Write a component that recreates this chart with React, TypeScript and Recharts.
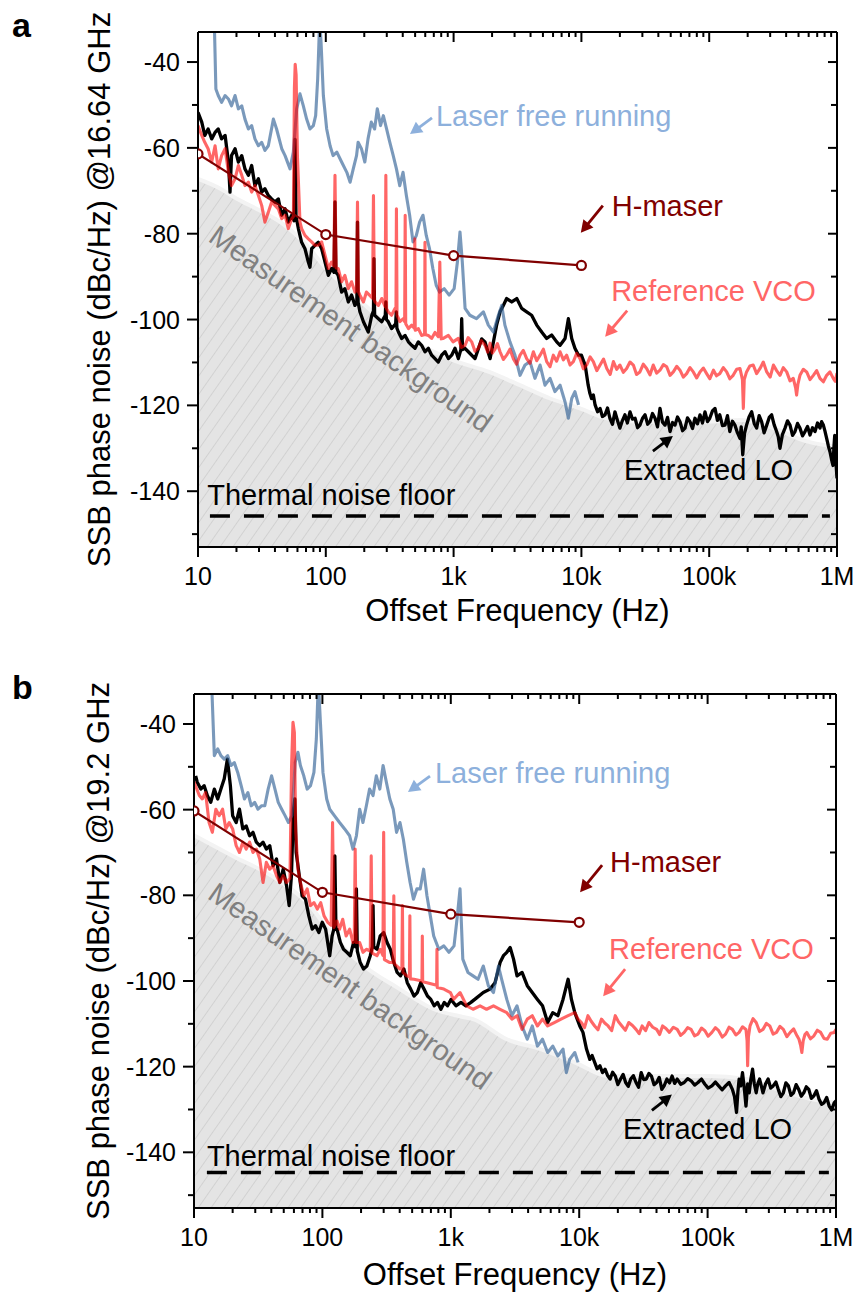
import React from 'react';
import { ComposedChart, Line, Area, XAxis, YAxis, ReferenceDot } from 'recharts';

type Pt = [number, number];

// ---- axes ----
const X_MAJOR = [10, 100, 1000, 10000, 100000, 1000000];
const X_MAJOR_LABELS = ['10', '100', '1k', '10k', '100k', '1M'];
const X_TICKS = X_MAJOR.slice(0, -1)
  .flatMap((d) => [1, 2, 3, 4, 5, 6, 7, 8, 9].map((k) => k * d))
  .concat([1000000]);
const Y_TICKS = [-150, -140, -130, -120, -110, -100, -90, -80, -70, -60, -50, -40];
const Y_LABELED = [-140, -120, -100, -80, -60, -40];
const Y_MIN = -153;
const Y_MAX = -33;

// ---- panel a : 16.64 GHz ----
const loA: Pt[] = [[10,-51.7],[10.7,-54],[11.3,-57.1],[12,-55.6],[12.8,-57.9],[13.6,-56.4],[14.4,-55.6],[15.3,-57.9],[16.3,-57.1],[17.3,-63.3],[17.8,-70.3],[18.3,-61.8],[19.5,-60.2],[20.7,-63.3],[22,-61.8],[23.3,-64.9],[24.8,-66.4],[26.3,-64.1],[27.9,-68.8],[29.7,-67.2],[31.5,-70.3],[33.4,-69.5],[35.5,-71.1],[37.7,-71.9],[40,-72.6],[42.5,-71.9],[45.2,-75.7],[48,-74.2],[50.9,-77.3],[54.1,-75.7],[56.5,-77],[57.4,-58],[58.5,-76],[61,-78.8],[64.7,-82],[68.7,-83.5],[73,-86.6],[75.2,-87.8],[77.5,-83.5],[82.3,-82.7],[87.4,-82],[92.8,-83.5],[98.6,-86.6],[104.7,-89.7],[111,-88.1],[116,-89],[118,-72.6],[120,-89],[125,-89.7],[133,-93.6],[141,-92.8],[150,-95.9],[159,-94.3],[169,-96.7],[175,-96],[177,-77.3],[179,-96],[185,-98.2],[197,-100.5],[215,-102.9],[229,-99],[236,-98],[238,-85.8],[241,-99],[258,-99.8],[274,-100.5],[292,-99],[295,-95.9],[298,-100],[308,-100.5],[327,-102.1],[352,-101],[356,-98.2],[360,-102],[370,-102.9],[392,-104.4],[417,-103.7],[443,-105.2],[470,-106],[499,-106.7],[530,-105.2],[562,-106],[597,-107.5],[634,-106.7],[673,-108.3],[715,-109.1],[759,-109.9],[806,-108.3],[857,-107.5],[910,-109.1],[966,-108.3],[1026,-106.7],[1089,-109.1],[1140,-107],[1157,-99.8],[1175,-107],[1228,-106.7],[1304,-107.5],[1470,-109.1],[1660,-104.5],[1760,-105.2],[1930,-109.1],[2050,-105.2],[2170,-101.3],[2310,-98.2],[2450,-96.7],[2600,-95.1],[2850,-95.9],[3120,-95.1],[3410,-97.4],[3730,-98.2],[4080,-99],[4470,-101.3],[4890,-102.9],[5350,-104.4],[5850,-103.6],[6410,-105.2],[6810,-106],[7450,-104.4],[7910,-99.8],[8400,-104.4],[8900,-106.7],[9500,-108.3],[10000,-108.3],[10350,-109.5],[10700,-110.6],[11000,-113],[11300,-115.3],[11650,-117.2],[12000,-118.4],[12400,-117.6],[12800,-119.9],[13400,-121.5],[14000,-120.7],[14600,-122.6],[15300,-122.2],[16000,-120.6],[16700,-123],[17500,-124.4],[18300,-121.5],[19100,-123.4],[20000,-125.3],[20900,-123.6],[21900,-122.2],[22900,-124.1],[24000,-121.5],[25100,-123.2],[26300,-123],[27500,-125.2],[28700,-124.6],[30100,-123],[31500,-122.2],[33000,-124.4],[34400,-123.8],[36000,-121.9],[37700,-123],[39400,-125],[41200,-120.7],[43100,-123.9],[45100,-124.6],[47200,-122.8],[49400,-126.1],[51700,-124],[54000,-124.6],[56500,-122.7],[59100,-123.8],[61900,-125.9],[64700,-125.3],[67600,-122.9],[70700,-123.8],[74000,-125.4],[77400,-123],[81000,-124.3],[84700,-122.2],[88600,-124.1],[92700,-121.5],[97000,-123.8],[101000,-123],[106000,-121.3],[111000,-120.7],[116000,-123.5],[121000,-122.2],[127000,-124.7],[133000,-124.6],[139000,-122.4],[145000,-126.1],[152000,-123.7],[159000,-124.6],[166000,-126.3],[174000,-127.7],[178000,-125],[183000,-131.5],[189000,-126.5],[196000,-124.6],[205000,-122.7],[215000,-121.5],[225000,-124.2],[235000,-125.3],[246000,-122.4],[257000,-123.8],[269000,-126.4],[282000,-124.6],[295000,-122.8],[308000,-122.2],[322000,-124.5],[337000,-126.1],[347000,-127.3],[358000,-130],[374000,-126.8],[392000,-125.3],[410000,-123.6],[429000,-124.6],[449000,-127],[469000,-126.1],[491000,-124.2],[513000,-125.3],[537000,-127.1],[562000,-126.1],[588000,-124.9],[615000,-126.9],[643000,-125.2],[673000,-126.1],[704000,-124.1],[736000,-125.3],[758000,-123.8],[782000,-124.6],[805000,-126],[830000,-127.7],[855000,-129.4],[881000,-130.8],[905000,-132.5],[930000,-134],[945000,-130],[960000,-127],[980000,-133],[1000000,-137]];

const vcoA: Pt[] = [[10,-54.8],[10.7,-57.1],[11.3,-58.7],[12,-60.2],[12.8,-63.3],[13.6,-59.5],[14.4,-64.9],[15.3,-61.8],[16.3,-60.2],[17.3,-65.7],[18.3,-68.8],[19.5,-67.2],[20.7,-64.1],[22,-66.4],[23.3,-68.8],[24.8,-68],[26.3,-70.3],[27.9,-68.8],[29.7,-71.1],[31.5,-73.4],[33.4,-77.3],[35.5,-75],[37.7,-72.6],[40,-73.4],[42.5,-74.2],[45.2,-76.5],[48,-75.7],[50.9,-78.8],[54.1,-76.5],[55.8,-76],[56.8,-46],[57.6,-40.5],[58.6,-43],[60,-62],[62.8,-77.3],[64.7,-78.8],[68.7,-80.4],[73,-81.2],[77.5,-81.9],[82.3,-82.7],[87.4,-82.7],[92.8,-81.9],[98.6,-85],[104.7,-88.1],[111,-86.6],[115.5,-87.5],[118,-66.4],[120.5,-88],[125,-88.1],[133,-91.2],[141,-89.7],[150,-92.8],[159,-91.2],[169,-93.6],[174,-93],[177,-72.6],[180,-93.5],[185,-94.3],[197,-95.9],[208,-93.6],[232,-95],[236,-71.1],[240,-95.5],[243,-95.9],[258,-96.7],[274,-95.1],[291,-97],[295,-66.4],[299,-97.5],[308,-98.2],[327,-99],[348,-97.4],[354,-98],[357,-74.2],[361,-99],[380,-100.5],[404,-99.8],[414,-100.5],[418,-75.7],[422,-101],[443,-102.1],[470,-101.3],[493,-102],[497,-81.2],[501,-102.5],[530,-102.1],[562,-103.7],[593,-103.5],[597,-82],[601,-103.5],[634,-103.7],[673,-104.4],[715,-103],[760,-104],[780,-86.6],[800,-104.5],[830,-104.4],[910,-103.7],[990,-105.2],[1089,-104.4],[1150,-106.5],[1228,-106],[1300,-104.2],[1385,-105.2],[1470,-107.4],[1560,-106.7],[1650,-104.9],[1760,-106],[1850,-107.6],[1930,-105.5],[2010,-107.8],[2100,-107],[2200,-105.6],[2310,-107.5],[2450,-109.3],[2600,-108.3],[2760,-106.9],[2930,-109.1],[3110,-110.4],[3310,-108.3],[3510,-107.2],[3730,-109.1],[3960,-110.2],[4210,-107.5],[4470,-109.6],[4750,-108.3],[5040,-106.9],[5350,-109.8],[5680,-111],[6030,-108.3],[6400,-109.7],[6810,-107.5],[7230,-109.4],[7670,-108.3],[8150,-110.6],[8650,-109.8],[9180,-107.9],[9750,-109.1],[10350,-111.5],[11000,-110.6],[11700,-108.7],[12400,-109.8],[13200,-111.9],[14000,-110.6],[14900,-109.2],[15800,-111.4],[16800,-112.8],[17800,-109.8],[18900,-111.6],[20000,-110.6],[21300,-112.3],[22600,-111.4],[24000,-109.9],[25500,-110.6],[27000,-112.8],[28700,-112.2],[30500,-110.4],[32400,-111.4],[34400,-112.9],[36500,-110.6],[38800,-112.5],[41200,-111.8],[43800,-110.5],[46500,-111],[49400,-113],[52400,-112.2],[55700,-110.9],[59100,-111.8],[62700,-113.4],[66600,-112.6],[70800,-111.2],[75100,-112.2],[79800,-113.6],[84700,-112.2],[90000,-111.3],[95500,-112.6],[101000,-113.8],[108000,-111.8],[114000,-113.1],[121000,-112.6],[129000,-111.2],[137000,-112.2],[145000,-113.8],[154000,-113],[164000,-111.6],[174000,-111.4],[179000,-113],[182000,-114],[185000,-120.7],[188000,-114],[196000,-112.2],[208000,-110.8],[221000,-110.6],[235000,-112.6],[250000,-111.4],[265000,-109.9],[282000,-112.2],[300000,-113.4],[318000,-110.6],[337000,-111.9],[358000,-113],[380000,-111.2],[404000,-112.2],[429000,-114.3],[455000,-113.7],[475000,-116],[483000,-117.6],[495000,-115],[513000,-113],[545000,-111.6],[579000,-112.2],[615000,-114],[653000,-113],[693000,-111.9],[736000,-113.7],[782000,-114.5],[830000,-113],[881000,-112.2],[935000,-113.7],[970000,-114.4],[1000000,-112.5]];

const laserA: Pt[] = [[13.4,-30],[13.8,-46.3],[14.4,-47.8],[15.3,-49.4],[16.3,-47.8],[17.3,-48.6],[18.3,-50.2],[19.5,-47.8],[20.7,-50.9],[22,-50.2],[23.3,-53.3],[24.8,-55.6],[26.3,-54.8],[27.9,-57.9],[29.7,-59.5],[31.5,-58.7],[33.4,-60.6],[35.5,-59.5],[38.9,-53.3],[41.2,-55.6],[45.2,-60.2],[48,-61.8],[52.5,-64.9],[55.7,-61],[59.2,-50.9],[62.8,-47.4],[66.7,-50.2],[70.8,-53.3],[75.2,-55.6],[79.9,-54.8],[83.3,-52.5],[86.4,-43.9],[89.6,-30],[91.8,-35.4],[95.7,-47.8],[101.6,-55.6],[108,-59.5],[114,-61.8],[122,-61],[133,-63.3],[146,-65.7],[155,-68],[164,-64.9],[174,-61.8],[179,-58.7],[190,-60.2],[202,-63.3],[214,-57.9],[227,-54],[241,-55.6],[253,-50.9],[268,-54.8],[282,-52.5],[299,-55.6],[317,-58.7],[337,-61.8],[357,-64.9],[379,-68.8],[402,-65.7],[427,-71.1],[453,-75.7],[481,-81.9],[511,-80.4],[542,-77.3],[576,-75.7],[611,-80.4],[648,-83.5],[688,-88.1],[731,-92],[776,-93.6],[844,-92.8],[923,-94.3],[1010,-92.8],[1071,-86.6],[1122,-79.6],[1170,-86.6],[1230,-97.4],[1340,-99],[1510,-99.8],[1710,-98.2],[1870,-101.3],[2050,-102.9],[2240,-99],[2380,-96.7],[2520,-101.3],[2760,-105.2],[3020,-108.3],[3310,-113],[3620,-110.6],[3960,-109.8],[4330,-113.7],[4750,-110.6],[5190,-115.3],[5680,-113.7],[6210,-116.8],[6810,-115.3],[7450,-119.2],[7910,-123],[8400,-118.4],[8900,-116.8],[9500,-119.9]];

const maserA: Pt[] = [[10,-61.4],[100,-80.2],[1000,-85.1],[10000,-87.4]];

const backgroundA: Pt[] = [[10,-67.2],[15,-69.5],[20,-71.8],[30,-74.5],[45,-77.5],[70,-82.5],[100,-88],[150,-93],[200,-96.5],[300,-101],[400,-103.8],[700,-107.5],[1000,-109.5],[1900,-112.2],[3300,-115.3],[5700,-118.4],[9750,-120.7],[15800,-123],[28700,-123.8],[95000,-123.8],[174000,-123.4],[318000,-125.3],[580000,-128.4],[782000,-129.2],[1000000,-129.5]];

const floorA: Pt[] = [[12.4,-145.8],[880000,-145.8]];

// ---- panel b : 19.2 GHz ----
const loB: Pt[] = [[10.3,-52.1],[10.6,-53.6],[11.3,-55.2],[12,-54.4],[12.7,-56.7],[13.5,-58.3],[14.4,-55.2],[15.3,-57.5],[16.2,-55.2],[17.2,-52.8],[18.2,-48.2],[19.2,-54.4],[20,-61.4],[21.3,-63],[22.6,-59.9],[24,-64.5],[25.5,-63.8],[27.1,-66.1],[28.8,-65.3],[30.6,-67.6],[32.5,-68.4],[34.5,-67.6],[36.6,-69.2],[38.9,-68.4],[41.3,-73.1],[43.9,-71.5],[46.6,-77],[49.5,-73.9],[52.6,-77.8],[55.1,-82.4],[57.4,-75.4],[59.5,-60],[61,-57.5],[62.5,-70],[66.1,-75.4],[69.5,-80.1],[73.8,-80.9],[78.4,-84.8],[83.3,-87.9],[88.4,-87.1],[93.9,-88.7],[99.7,-86.3],[106,-87.9],[114,-94.1],[119,-89.5],[122.5,-88],[125,-70.8],[127.5,-88],[130,-87.9],[138,-91],[146,-92.6],[155,-93.3],[165,-94.1],[175,-91],[181,-92],[184,-78.5],[187,-93],[197,-95.7],[209,-97.2],[222,-96.5],[236,-94.1],[245,-92],[248,-82.4],[251,-92],[266,-92.6],[282,-89.5],[300,-88.7],[319,-91],[338,-92.6],[360,-95.7],[382,-98],[406,-98.8],[431,-97.2],[458,-100.4],[487,-101.9],[517,-103.5],[549,-102.7],[583,-100.4],[619,-101.9],[658,-103.5],[699,-104.3],[742,-105.8],[788,-105],[837,-106.6],[889,-105],[944,-105.8],[1003,-104.3],[1097,-105.8],[1200,-105],[1310,-105.8],[1435,-105],[1580,-104],[1790,-102.7],[2020,-101.9],[2210,-100.4],[2420,-95.7],[2570,-94.1],[2730,-93.3],[2900,-92.2],[3080,-94.9],[3280,-98.8],[3590,-98],[3940,-101.1],[4310,-102.7],[4730,-104.3],[5180,-105.8],[5680,-109.7],[6220,-107.4],[6820,-108.1],[7480,-104.3],[8200,-99.6],[8700,-104.3],[9240,-107.4],[10100,-110.5],[10700,-112],[11400,-115.9],[12100,-118.3],[12600,-117.4],[13200,-119],[13800,-120.5],[14500,-119.8],[15200,-121.4],[15900,-120.6],[16600,-122],[17400,-122.9],[18200,-121.3],[19100,-122.2],[20000,-124.2],[21000,-122.9],[22000,-121.8],[23000,-123.7],[24100,-124.6],[25200,-122.9],[26400,-122.1],[27700,-123.7],[29000,-124.8],[30400,-121.4],[31800,-123],[33300,-122.9],[34900,-121.6],[36500,-122.2],[38300,-124.2],[40100,-123.7],[42000,-122.5],[44000,-125.3],[46000,-124.4],[48200,-122.9],[50500,-123.8],[52900,-122.2],[55400,-123.9],[58000,-122.9],[61800,-124.1],[65700,-123.7],[70000,-122.8],[74400,-123.3],[79200,-124.3],[84200,-123.7],[89600,-122.9],[95300,-124.1],[101000,-125],[108000,-124.5],[115000,-123.6],[122000,-124.5],[130000,-125.4],[138000,-124.5],[147000,-123.7],[156000,-125.3],[162000,-127],[168000,-130.7],[172000,-126],[176000,-122.9],[181000,-124.5],[187000,-121.4],[193000,-125],[199000,-129.2],[205000,-124],[211000,-126.1],[217000,-123],[224000,-120.6],[231000,-124],[239000,-126.1],[246000,-124],[254000,-122.9],[262000,-124.5],[270000,-126.1],[283000,-124],[296000,-122.9],[310000,-125],[324000,-124.5],[340000,-123.6],[355000,-125.3],[372000,-127],[389000,-126.1],[407000,-123.8],[426000,-124.5],[446000,-126.7],[467000,-126.1],[489000,-124.2],[512000,-125.3],[536000,-126.9],[561000,-126.1],[587000,-124.7],[614000,-125.3],[643000,-127.4],[673000,-126.8],[705000,-125.6],[738000,-127.6],[772000,-128.8],[808000,-128.4],[846000,-127.2],[885000,-129.2],[925000,-130.1],[970000,-128.4],[1000000,-128]];

const vcoB: Pt[] = [[10,-53.5],[11,-56.7],[11.6,-57.5],[12.3,-56],[13.1,-63],[13.9,-65.3],[14.8,-59.9],[15.7,-61.4],[16.7,-59.9],[17.7,-64.5],[18.8,-63],[20,-64.5],[21.3,-68.4],[22.6,-70],[24,-67.6],[25.5,-69.2],[27.1,-67.6],[28.8,-70],[30.6,-69.2],[32.5,-71.5],[34.5,-77],[36.6,-72.3],[38.9,-73.9],[41.3,-73.1],[43.9,-75.4],[46.6,-77],[49.5,-75.4],[52.6,-77],[55.9,-76],[57.5,-50],[59,-39.6],[60.5,-42],[62,-65],[64.5,-73.9],[67.4,-77],[71.6,-80.1],[76.1,-78.5],[80.8,-82.4],[85.9,-81.7],[91.3,-83.2],[97,-81.7],[103,-84.8],[110,-86.3],[117,-87],[120,-63],[123,-87.5],[130,-86],[136,-87.9],[144,-85.6],[153,-89.5],[163,-87.9],[173,-91],[177,-90.5],[180,-69.2],[183,-91],[195,-91],[207,-93.3],[220,-92.6],[236,-93],[240,-70.8],[244,-93.5],[266,-94.1],[282,-92.6],[296,-94],[300,-65.3],[304,-95],[335,-95.7],[356,-95.7],[360,-80.1],[364,-96],[402,-97.2],[416,-97],[420,-82.4],[424,-98],[454,-98.8],[476,-99],[480,-84.8],[484,-99.5],[517,-99.6],[596,-100],[600,-89.5],[604,-100.2],[652,-100.4],[776,-101],[780,-92.6],[784,-101.5],[883,-101.9],[994,-102.7],[1050,-104.3],[1180,-102.7],[1330,-105.8],[1490,-106.6],[1690,-105.8],[1900,-106.6],[2150,-105.8],[2420,-106.6],[2730,-107.4],[2990,-108.9],[3280,-108.1],[3590,-111.3],[3940,-108.9],[4310,-108.1],[4730,-110.5],[5180,-108.9],[5680,-110.5],[6400,-109.7],[7220,-108.9],[8200,-108.1],[9240,-107.4],[9800,-108.9],[10400,-109.7],[11000,-110.9],[11700,-108.1],[12400,-109.4],[13200,-110.5],[14000,-111.4],[14900,-108.9],[15800,-109.8],[16800,-110.5],[17900,-111.6],[19100,-108.1],[20300,-109.6],[21500,-110.5],[22900,-111.5],[24300,-109.7],[26000,-110.4],[27700,-111.3],[29300,-112.3],[30900,-110.5],[32900,-111.6],[34900,-109.7],[37400,-110.8],[40100,-111.3],[42300,-112.5],[44600,-110.5],[47400,-111.1],[50400,-112],[54100,-110.8],[58000,-111.3],[61700,-112.7],[65700,-112],[69900,-110.9],[74400,-111.3],[79100,-112.8],[84200,-112.4],[89600,-111],[95300,-111.6],[101000,-112.9],[108000,-112],[115000,-110.9],[122000,-111.6],[130000,-113.1],[138000,-112.4],[147000,-110.8],[156000,-111.3],[166000,-112.6],[176000,-112],[187000,-110.7],[199000,-111.3],[203000,-114],[205000,-119.8],[208000,-113],[214000,-110.5],[226000,-108.8],[239000,-109.7],[254000,-111.8],[270000,-111.3],[287000,-109.9],[305000,-110.5],[324000,-112.4],[344000,-112],[366000,-110.6],[389000,-111.3],[414000,-113],[440000,-112],[468000,-111.2],[497000,-112.8],[515000,-113.6],[530000,-115],[542000,-116.7],[555000,-114],[573000,-112.5],[592000,-112],[632000,-113.5],[673000,-112.8],[715000,-111.5],[760000,-112],[806000,-113.4],[855000,-113.6],[910000,-112.2],[970000,-112],[1000000,-111.3]];

const laserB: Pt[] = [[13.7,-30],[14.4,-47.4],[15.3,-45.8],[16.2,-47.4],[17.2,-48.2],[18.3,-47.4],[19.4,-49.7],[20.6,-49],[21.9,-51.3],[23.3,-54.4],[24.7,-57.5],[26.3,-56],[27.9,-59.1],[29.7,-58.3],[31.5,-59.9],[33.5,-59.1],[35.6,-59.1],[37.8,-55.2],[40.2,-52.1],[42.7,-55.2],[45.3,-58.3],[48.2,-59.9],[51.2,-61.4],[54.4,-63],[57.8,-61.4],[61.4,-49],[64.5,-46.6],[67.4,-49.7],[71.6,-52.1],[76.1,-55.2],[80.8,-54.4],[85.9,-51.3],[89.7,-43.5],[93,-30],[96.5,-39.6],[101,-51.3],[108,-57.5],[114,-59.9],[124,-61.4],[136,-63],[149,-64.5],[163,-66.1],[173,-69.2],[184,-66.1],[195,-59.9],[207,-63],[220,-59.1],[233,-55.2],[248,-56.7],[263,-52.1],[280,-55.2],[297,-49.7],[315,-53.6],[335,-57.5],[356,-59.9],[378,-65.3],[402,-63],[427,-66.9],[454,-72.3],[482,-77],[512,-80.9],[544,-78.5],[578,-78.5],[614,-73.9],[652,-80.1],[693,-84.8],[736,-89.5],[806,-92.6],[883,-91.8],[967,-93.3],[1060,-91.8],[1125,-84.8],[1180,-78.5],[1240,-94.9],[1360,-98],[1490,-98.8],[1630,-99.6],[1790,-96.5],[1960,-101.1],[2150,-102.7],[2350,-96.5],[2490,-99.6],[2730,-104.3],[2990,-108.1],[3280,-105.8],[3590,-110.5],[3940,-113.6],[4310,-110.5],[4730,-115.2],[5180,-113.6],[5680,-116.7],[6220,-115.2],[6820,-117.5],[7480,-115.9],[7940,-121.4],[8430,-118.3],[9240,-116.7],[9800,-119]];

const maserB: Pt[] = [[10,-60.3],[100,-79.3],[1000,-84.4],[10000,-86.3]];

const backgroundB: Pt[] = [[10,-66],[20,-70.8],[44,-76.2],[80,-82.4],[115,-88.7],[195,-95.7],[400,-101.9],[740,-106.6],[1200,-108.3],[1490,-108.9],[2730,-113.6],[5000,-115.9],[9240,-119],[16800,-122.2],[100000,-122.2],[200000,-122.9],[350000,-125.3],[650000,-127.6],[1000000,-128.4]];

const floorB: Pt[] = [[12.6,-144.7],[880000,-144.7]];

// ---- styling ----
const FONT = '"Liberation Sans", Arial, Helvetica, sans-serif';
const AXIS_LINE = { stroke: '#000', strokeWidth: 2 };
const C_LASER = '#2f5f94';
const C_LASER_TEXT = '#8db0dc';
const C_VCO = '#ff0000';
const C_VCO_TEXT = '#ff6666';
const C_MASER = '#800000';

type Note = { f: number; v: number; text: string; color: string; arrow?: [number, number, number, number] };

const notesA: Note[] = [
  { f: 728, v: -54.9, text: 'Laser free running', color: C_LASER_TEXT, arrow: [-4, -8, -26, 8] },
  { f: 17300, v: -75.8, text: 'H-maser', color: C_MASER, arrow: [-9, -10, -31, 17] },
  { f: 17100, v: -95.6, text: 'Reference VCO', color: C_VCO_TEXT, arrow: [16, 10, -6, 36] },
  { f: 21500, v: -137.4, text: 'Extracted LO', color: '#000', arrow: [29, -29, 49, -44] },
  { f: 11.8, v: -143.3, text: 'Thermal noise floor', color: '#000' },
];
const notesB: Note[] = [
  { f: 753, v: -53.8, text: 'Laser free running', color: C_LASER_TEXT, arrow: [-5, -7, -27, 9] },
  { f: 17400, v: -74.6, text: 'H-maser', color: C_MASER, arrow: [-8, -7, -30, 20] },
  { f: 17100, v: -94.9, text: 'Reference VCO', color: C_VCO_TEXT, arrow: [16, 10, -6, 37] },
  { f: 21900, v: -137.0, text: 'Extracted LO', color: '#000', arrow: [29, -29, 49, -45] },
  { f: 12.6, v: -143.3, text: 'Thermal noise floor', color: '#000' },
];

const rows = (pts: Pt[]) => pts.map(([f, v]) => ({ f, v }));

// ---- tick renderers (x, y arrive on the axis line since tickSize/tickMargin are 0) ----
function BottomTick(props: any) {
  const { x, y, payload } = props;
  const i = X_MAJOR.indexOf(payload.value);
  const major = i >= 0;
  return (
    <g>
      <line x1={x} x2={x} y1={y} y2={y + (major ? 10 : 5)} stroke="#000" strokeWidth={2} />
      {major && (
        <text x={x} y={y + 38} textAnchor="middle" fontSize={25} fill="#000">
          {X_MAJOR_LABELS[i]}
        </text>
      )}
    </g>
  );
}
function TopTick(props: any) {
  const { x, y, payload } = props;
  const major = X_MAJOR.indexOf(payload.value) >= 0;
  return <line x1={x} x2={x} y1={y} y2={y + (major ? 10 : 5)} stroke="#000" strokeWidth={2} />;
}
function LeftTick(props: any) {
  const { x, y, payload } = props;
  const major = Y_LABELED.indexOf(payload.value) >= 0;
  return (
    <g>
      <line x1={x} x2={x - (major ? 11 : 6)} y1={y} y2={y} stroke="#000" strokeWidth={2} />
      {major && (
        <text x={x - 18} y={y + 9} textAnchor="end" fontSize={25} fill="#000">
          {String(payload.value)}
        </text>
      )}
    </g>
  );
}
function RightTick(props: any) {
  const { x, y, payload } = props;
  const major = Y_LABELED.indexOf(payload.value) >= 0;
  return <line x1={x} x2={x - (major ? 9 : 6)} y1={y} y2={y} stroke="#000" strokeWidth={2} />;
}

function Arrow({ x1, y1, x2, y2, color }: { x1: number; y1: number; x2: number; y2: number; color: string }) {
  const dx = x2 - x1;
  const dy = y2 - y1;
  const len = Math.hypot(dx, dy);
  const ux = dx / len;
  const uy = dy / len;
  const hl = 12;
  const hw = 6.5;
  const bx = x2 - ux * hl;
  const by = y2 - uy * hl;
  return (
    <g>
      <line x1={x1} y1={y1} x2={bx + ux * 1} y2={by + uy * 1} stroke={color} strokeWidth={2.8} />
      <polygon points={`${x2},${y2} ${bx - uy * hw},${by + ux * hw} ${bx + uy * hw},${by - ux * hw}`} fill={color} />
    </g>
  );
}

function NoteMark({ cx, cy, note }: { cx: number; cy: number; note: Note }) {
  const a = note.arrow;
  return (
    <g>
      <text x={cx} y={cy} fontSize={29} fill={note.color}>
        {note.text}
      </text>
      {a && <Arrow x1={cx + a[0]} y1={cy + a[1]} x2={cx + a[2]} y2={cy + a[3]} color={note.color} />}
    </g>
  );
}

function BackgroundMark({ cx, cy }: { cx: number; cy: number }) {
  return (
    <text
      x={cx}
      y={cy}
      fontSize={29}
      fill="#808080"
      textAnchor="middle"
      dominantBaseline="central"
      transform={`rotate(35 ${cx} ${cy})`}
    >
      Measurement background
    </text>
  );
}

type PanelProps = {
  top: number;
  letter: string;
  letterY: number;
  leftW: number;
  rightW: number;
  topH: number;
  bottomH: number;
  xTitleOffset: number;
  yTitleOffset: number;
  yTitle: string;
  lo: Pt[];
  vco: Pt[];
  laser: Pt[];
  maser: Pt[];
  background: Pt[];
  floor: Pt[];
  notes: Note[];
  bgAt: { f: number; v: number };
  hatchId: string;
};

function Panel(p: PanelProps) {
  const ax = { xAxisId: 'b', yAxisId: 'l' } as const;
  return (
    <div style={{ position: 'absolute', left: 0, top: p.top, width: 856, height: 648 }}>
      <ComposedChart width={856} height={648} margin={{ top: 0, right: 0, bottom: 0, left: 0 }}>
        <defs>
          <pattern id={p.hatchId} patternUnits="userSpaceOnUse" width={10.5} height={10.5} patternTransform="rotate(35)">
            <rect width={10.5} height={10.5} fill="#e4e4e4" />
            <line x1={0} y1={0} x2={0} y2={10.5} stroke="#c9c9c9" strokeWidth={1.3} />
          </pattern>
        </defs>
        <XAxis
          xAxisId="b"
          dataKey="f"
          type="number"
          scale="log"
          domain={[10, 1000000]}
          allowDataOverflow
          ticks={X_TICKS}
          interval={0}
          tick={<BottomTick />}
          tickLine={false}
          tickSize={0}
          tickMargin={0}
          axisLine={AXIS_LINE}
          height={p.bottomH}
          label={{ value: 'Offset Frequency (Hz)', position: 'insideBottom', offset: p.xTitleOffset, fontSize: 31, fill: '#000' }}
        />
        <XAxis
          xAxisId="t"
          orientation="top"
          dataKey="f"
          type="number"
          scale="log"
          domain={[10, 1000000]}
          allowDataOverflow
          ticks={X_TICKS}
          interval={0}
          tick={<TopTick />}
          tickLine={false}
          tickSize={0}
          tickMargin={0}
          axisLine={AXIS_LINE}
          height={p.topH}
        />
        <YAxis
          yAxisId="l"
          type="number"
          domain={[Y_MIN, Y_MAX]}
          allowDataOverflow
          ticks={Y_TICKS}
          interval={0}
          tick={<LeftTick />}
          tickLine={false}
          tickSize={0}
          tickMargin={0}
          axisLine={AXIS_LINE}
          width={p.leftW}
          label={{
            value: p.yTitle,
            angle: -90,
            position: 'insideLeft',
            offset: p.yTitleOffset,
            fontSize: 31,
            fill: '#000',
            style: { textAnchor: 'middle' },
          }}
        />
        <YAxis
          yAxisId="r"
          orientation="right"
          type="number"
          domain={[Y_MIN, Y_MAX]}
          allowDataOverflow
          ticks={Y_TICKS}
          interval={0}
          tick={<RightTick />}
          tickLine={false}
          tickSize={0}
          tickMargin={0}
          axisLine={AXIS_LINE}
          width={p.rightW}
        />
        <Area
          {...ax}
          data={rows(p.background)}
          dataKey="v"
          type="monotone"
          baseValue={Y_MIN}
          fill={`url(#${p.hatchId})`}
          fillOpacity={1}
          stroke="#f3f3f3"
          strokeWidth={4}
          isAnimationActive={false}
        />
        <Line {...ax} data={rows(p.lo)} dataKey="v" type="linear" stroke="#000" strokeWidth={3.3} strokeLinejoin="round" dot={false} isAnimationActive={false} />
        <Line {...ax} data={rows(p.laser)} dataKey="v" type="linear" stroke={C_LASER} strokeOpacity={0.64} strokeWidth={3.1} strokeLinejoin="round" dot={false} isAnimationActive={false} />
        <Line {...ax} data={rows(p.vco)} dataKey="v" type="linear" stroke={C_VCO} strokeOpacity={0.6} strokeWidth={3.1} strokeLinejoin="round" dot={false} isAnimationActive={false} />
        <Line {...ax} data={rows(p.floor)} dataKey="v" type="linear" stroke="#000" strokeWidth={3.5} strokeDasharray="20 14" dot={false} isAnimationActive={false} />
        <Line
          {...ax}
          data={rows(p.maser)}
          dataKey="v"
          type="linear"
          stroke={C_MASER}
          strokeWidth={2.2}
          dot={{ r: 4.5, stroke: C_MASER, strokeWidth: 2.2, fill: '#fff' }}
          isAnimationActive={false}
        />
        {p.notes.map((n) => (
          <ReferenceDot
            key={n.text}
            {...ax}
            x={n.f}
            y={n.v}
            r={0}
            ifOverflow="visible"
            shape={(s: any) => <NoteMark cx={s.cx} cy={s.cy} note={n} />}
          />
        ))}
        <ReferenceDot
          {...ax}
          x={p.bgAt.f}
          y={p.bgAt.v}
          r={0}
          ifOverflow="visible"
          shape={(s: any) => <BackgroundMark cx={s.cx} cy={s.cy} />}
        />
      </ComposedChart>
      <svg width={60} height={70} style={{ position: 'absolute', left: 0, top: 0 }}>
        <text x={12} y={p.letterY} fontSize={34} fontWeight="bold" fill="#000">
          {p.letter}
        </text>
      </svg>
    </div>
  );
}

export default function App() {
  return (
    <div style={{ position: 'absolute', left: 0, top: 0, width: 856, height: 1296, background: '#fff', fontFamily: FONT }}>
      <Panel
        top={0}
        letter="a"
        letterY={37}
        leftW={198}
        rightW={19}
        topH={32}
        bottomH={101}
        xTitleOffset={27}
        yTitleOffset={99}
        yTitle="SSB phase noise (dBc/Hz) @16.64 GHz"
        lo={loA}
        vco={vcoA}
        laser={laserA}
        maser={maserA}
        background={backgroundA}
        floor={floorA}
        notes={notesA}
        bgAt={{ f: 157, v: -102.2 }}
        hatchId="hatchA"
      />
      <Panel
        top={648}
        letter="b"
        letterY={51}
        leftW={194}
        rightW={20}
        topH={46}
        bottomH={88}
        xTitleOffset={11}
        yTitleOffset={98}
        yTitle="SSB phase noise (dBc/Hz) @19.2 GHz"
        lo={loB}
        vco={vcoB}
        laser={laserB}
        maser={maserB}
        background={backgroundB}
        floor={floorB}
        notes={notesB}
        bgAt={{ f: 164, v: -101.2 }}
        hatchId="hatchB"
      />
    </div>
  );
}
